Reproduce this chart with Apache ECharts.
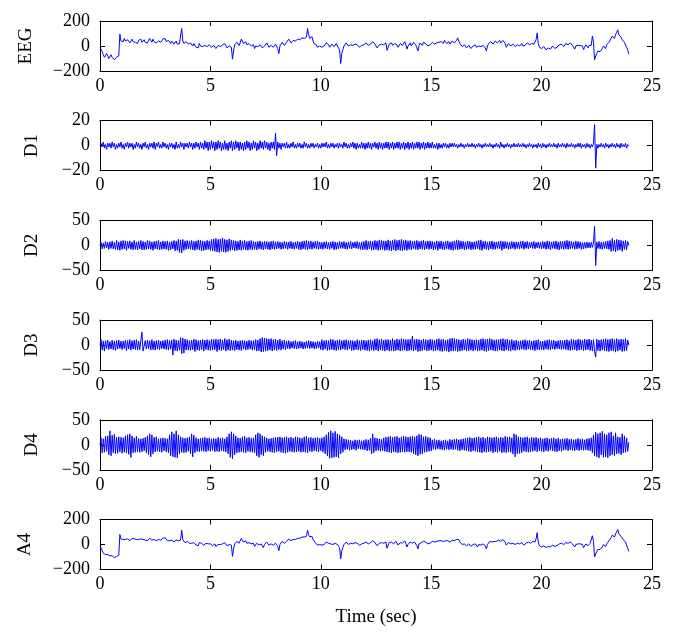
<!DOCTYPE html>
<html>
<head>
<meta charset="utf-8">
<script src="https://cdn.jsdelivr.net/npm/echarts@6/dist/echarts.min.js"></script>
<style>
  html, body { margin: 0; padding: 0; background: #fff; }
  #chart { width: 675px; height: 644px; }
</style>
</head>
<body>
<div id="chart"></div>
<script>
// samples every 0.05 s, one row per second
const sampleStep = 0.05;
const panelNames = ['EEG', 'D1', 'D2', 'D3', 'D4', 'A4'];
const yRanges = [200, 20, 50, 50, 50, 200];
const xTicks = [0, 5, 10, 15, 20, 25];

const eegValues = [
  -10, -25, -45, -70, -90, -75, -60, -80, -100, -85, -70, -90, -95, -110, -105, -90, -100, -80, 95, 40,
  55, 35, 60, 40, 30, 50, 45, 25, 40, 55, 35, 50, 30, 40, 20, 45, 35, 55, 30, 40,
  50, 30, 45, 25, 40, 60, 45, 30, 55, 35, 45, 25, 20, 40, 50, 30, 35, 55, 45, 60,
  35, 25, 45, 30, 20, 40, 35, 15, 25, 40, 15, 30, 20, 35, 140, 40, 20, 10, 35, 25,
  15, 5, 25, 10, 0, 20, 15, -10, 5, -15, 20, 0, 10, -5, -10, 5, 15, -5, 0, 10,
  10, -10, -15, 5, 10, -20, -25, 5, 15, -5, -10, 10, 0, 20, 25, -15, -25, 0, 5, -10,
  -105, -40, 10, 20, 30, 15, 5, 25, 55, 40, 20, 35, 35, 10, -5, 20, 25, 0, 0, 10,
  -20, 0, 15, -5, -10, 10, 5, -15, -30, 0, 10, 25, 20, -10, -15, 5, 0, -10, -5, 15,
  15, -20, -60, 0, 10, 30, 25, 5, 5, 30, 35, 55, 50, 25, 30, 45, 60, 40, 40, 55,
  70, 50, 45, 65, 80, 60, 55, 70, 140, 90, 60, 70, 75, 40, 20, 10, 10, -10, -15, 0,
  5, -10, -20, 0, 10, 25, 40, 10, -10, 5, 15, 0, -5, 10, 20, 0, -15, -30, -140, -60,
  -30, 0, 10, 25, 20, 0, -10, 10, 15, 5, 0, 15, 25, 10, 5, -10, -15, 5, 20, 10,
  10, 25, 30, 5, -5, 15, 20, 35, 35, 15, 10, -15, -20, 10, 25, 15, 5, 10, 15, 25,
  -35, -10, 15, 30, 25, 5, 0, 20, 30, 10, -10, 5, 20, 25, 5, 20, 35, 10, -25, 0,
  15, 25, 0, 10, 30, 20, 10, -15, -40, 5, 25, 15, 5, 30, 35, 20, 15, 0, -15, 10,
  20, 30, 35, 15, 10, 25, 40, 30, 15, 35, 30, 20, 45, 35, 20, 30, 35, 15, 25, 40,
  40, 25, 30, 45, 65, 40, 20, 5, -5, 5, 10, -5, -15, 0, 5, -10, -20, -5, 0, 10,
  10, -10, -25, 0, 5, -5, -10, 5, 15, -15, -40, 0, 20, 30, 35, 20, 15, 30, 40, 25,
  25, 40, 45, 25, 30, 45, 50, 20, -10, 5, 20, 10, 0, 10, 15, 0, -5, 5, 10, 0,
  0, 15, 20, 0, -10, 5, 15, 25, 25, 10, 5, 20, 30, 15, 20, 50, 105, 20, -10, -20,
  -20, -10, -5, -20, -30, -20, -15, -25, -25, -10, 0, -10, -20, -15, -10, 5, 10, 20, 15, 5,
  -5, 10, 20, 10, 10, 20, 25, 15, 5, -10, -25, 0, 15, 5, -10, 5, 20, 0, -30, -10,
  10, 0, -15, 5, 15, 5, 80, 30, -110, -80, -60, -40, -30, -45, -50, -20, 0, -10, -20, 10,
  20, 30, 40, 60, 80, 70, 60, 90, 110, 130, 90, 80, 70, 50, 40, 30, 20, -10, -30, -65
];

const d1Values = [
  0, 2, -1, 3, -2, 1, -3, 2, -1, 2, -2, 3, -1, 2, -3, 1, -2, 2, -1, 3,
  -2, 1, -3, 2, -1, 3, -2, 2, -1, 2, -3, 1, -2, 3, -1, 2, -2, 1, -3, 2,
  -1, 3, -2, 1, -3, 2, -1, 2, -2, 3, -3, 2, -1, 3, -2, 1, -2, 3, -1, 2,
  -2, 1, -3, 2, -1, 2, -2, 1, -3, 3, -2, 1, -2, 3, -1, 2, -3, 2, -1, 2,
  -2, 3, -1, 2, -3, 2, -2, 3, -1, 2, -3, 3, -2, 2, -3, 4, -2, 3, -4, 3,
  -3, 4, -2, 3, -4, 3, -3, 4, -2, 3, -4, 2, -3, 4, -3, 2, -4, 3, -2, 4,
  -4, 3, -3, 4, -2, 3, -4, 3, -3, 2, -4, 3, -3, 4, -2, 3, -4, 2, -3, 4,
  -2, 3, -4, 2, -3, 4, -2, 3, -3, 4, -2, 3, -3, 2, -4, 3, -2, 3, -3, 10,
  -8, 3, -2, 2, -3, 2, -1, 2, -2, 3, -2, 1, -2, 2, -1, 3, -2, 1, -2, 2,
  -1, 2, -2, 1, -2, 3, -1, 2, -2, 1, -2, 2, -1, 2, -2, 1, -1, 2, -2, 1,
  -2, 2, -1, 2, -1, 3, -2, 1, -2, 2, -1, 2, -2, 1, -1, 2, -2, 2, -1, 1,
  -2, 3, -1, 2, -2, 1, -2, 2, -1, 3, -2, 2, -3, 2, -2, 1, -2, 3, -2, 2,
  -3, 2, -2, 3, -2, 2, -3, 2, -1, 3, -2, 2, -3, 3, -2, 2, -3, 2, -2, 3,
  -2, 3, -3, 2, -2, 3, -3, 2, -2, 3, -2, 3, -3, 2, -2, 3, -3, 2, -2, 3,
  -3, 2, -2, 3, -3, 2, -2, 3, -2, 3, -3, 2, -2, 3, -3, 2, -2, 3, -2, 2,
  -2, 3, -2, 1, -2, 2, -3, 2, -2, 1, -2, 2, -1, 2, -2, 1, -2, 2, -1, 2,
  -1, 2, -1, 1, -2, 1, -1, 2, -1, 1, -2, 1, -1, 2, -1, 1, -1, 2, -1, 1,
  -2, 1, -1, 2, -1, 1, -2, 1, -1, 2, -1, 1, -1, 2, -1, 1, -2, 1, -1, 2,
  -1, 1, -2, 3, -1, 1, -2, 1, -1, 2, -1, 1, -2, 1, -1, 2, -1, 1, -1, 2,
  -1, 1, -1, 2, -1, 1, -2, 1, -1, 2, -1, 1, -2, 1, -1, 1, -2, 2, -1, 1,
  -2, 2, -1, 1, -2, 1, -1, 2, -1, 1, -1, 2, -1, 1, -2, 2, -1, 1, -1, 2,
  -1, 1, -2, 2, -1, 1, -1, 2, -1, 1, -2, 1, -1, 2, -1, 2, -2, 1, -1, 1,
  -2, 2, -1, 1, -2, 1, -1, 2, 17, -18, 1, -2, 1, -1, 2, -1, 1, -2, 2, -1,
  1, -2, 1, -1, 2, -1, 1, -2, 2, -1, 1, -2, 2, -1, 1, -1, 2, -2, 1, 0
];

const d2Values = [
  0, 6, -7, 5, -6, 8, -5, 6, -8, 7, -6, 9, -7, 6, -8, 10, -9, 7, -10, 9,
  -8, 10, -7, 9, -10, 8, -6, 9, -8, 7, -9, 10, -8, 7, -9, 8, -7, 10, -9, 8,
  -9, 7, -8, 10, -7, 9, -8, 7, -10, 8, -7, 9, -8, 10, -9, 7, -8, 9, -7, 8,
  -8, 9, -10, 7, -9, 8, -7, 10, -11, 9, -10, 12, -14, 11, -15, 12, -10, 9, -8, 10,
  -7, 9, -8, 10, -9, 8, -10, 9, -8, 11, -9, 10, -11, 9, -10, 8, -9, 10, -8, 9,
  -10, 12, -11, 13, -12, 14, -13, 12, -14, 13, -12, 15, -13, 12, -14, 11, -12, 13, -10, 11,
  -9, 10, -11, 9, -10, 8, -9, 11, -10, 9, -8, 10, -9, 8, -10, 9, -8, 10, -9, 8,
  -8, 7, -9, 8, -7, 9, -8, 7, -9, 8, -7, 8, -8, 7, -9, 8, -7, 9, -8, 7,
  -7, 8, -6, 7, -8, 6, -7, 8, -6, 7, -8, 7, -6, 8, -7, 6, -8, 7, -6, 8,
  -8, 7, -9, 8, -7, 9, -8, 10, -9, 8, -7, 9, -8, 7, -6, 8, -7, 9, -8, 7,
  -7, 6, -8, 7, -6, 8, -7, 6, -8, 7, -6, 8, -9, 7, -8, 6, -7, 8, -6, 7,
  -6, 8, -7, 6, -8, 7, -6, 8, -7, 6, -5, 7, -6, 8, -7, 6, -8, 7, -9, 8,
  -8, 10, -9, 8, -7, 9, -10, 8, -9, 10, -8, 9, -10, 11, -9, 10, -8, 9, -10, 9,
  -9, 11, -10, 9, -11, 10, -9, 12, -11, 10, -9, 11, -10, 12, -11, 10, -9, 11, -10, 9,
  -8, 10, -9, 8, -7, 9, -8, 10, -9, 8, -7, 9, -8, 10, -9, 8, -7, 9, -8, 9,
  -7, 8, -9, 7, -8, 9, -10, 8, -7, 9, -8, 7, -9, 8, -7, 9, -8, 7, -9, 8,
  -10, 9, -8, 11, -9, 10, -8, 9, -7, 8, -9, 7, -8, 9, -7, 8, -9, 7, -8, 7,
  -8, 9, -7, 10, -9, 11, -10, 8, -7, 9, -8, 7, -9, 8, -7, 9, -8, 7, -8, 7,
  -6, 8, -7, 9, -10, 8, -7, 8, -6, 7, -8, 6, -7, 8, -6, 7, -8, 7, -6, 7,
  -7, 8, -6, 9, -8, 7, -6, 8, -7, 6, -5, 7, -6, 8, -7, 6, -5, 7, -6, 6,
  -7, 8, -6, 7, -8, 9, -7, 8, -9, 7, -6, 8, -7, 9, -8, 7, -9, 8, -7, 8,
  -8, 9, -7, 10, -8, 9, -7, 8, -6, 7, -8, 9, -7, 8, -6, 7, -8, 6, -7, 6,
  -6, 7, -5, 6, -5, 6, -4, 5, 38, -40, 7, -6, 8, -7, 6, -8, 7, -6, 8, -7,
  9, -8, 10, -12, 14, -11, 10, -13, 12, -10, 11, -9, 10, -12, 9, -8, 10, -9, 8, 0
];

const d3Values = [
  0, 11, -10, 8, -12, 9, -7, 10, -9, 7, -8, 10, -9, 8, -11, 9, -8, 10, -7, 8,
  -9, 8, -7, 10, -11, 9, -8, 11, -10, 9, -8, 10, -9, 11, -10, 8, -9, 10, 26, -12,
  -11, 9, -8, 10, -7, 9, -10, 11, -9, 8, -10, 9, -8, 10, -9, 8, -7, 9, -8, 10,
  -9, 11, -10, 9, -8, 10, -20, 12, -11, 10, -12, 9, -10, 15, -17, 14, -16, 12, -10, 11,
  -10, 9, -11, 10, -9, 12, -13, 11, -10, 9, -11, 10, -9, 11, -12, 10, -9, 11, -10, 9,
  -11, 12, -10, 11, -9, 12, -13, 11, -10, 12, -11, 10, -9, 13, -12, 11, -10, 12, -11, 10,
  -10, 9, -11, 10, -9, 8, -10, 9, -11, 10, -8, 9, -10, 8, -9, 10, -8, 9, -10, 9,
  -9, 11, -12, 10, -11, 13, -14, 15, -13, 14, -12, 13, -11, 12, -10, 13, -12, 11, -10, 12,
  -11, 10, -9, 12, -10, 9, -8, 10, -9, 8, -7, 9, -8, 7, -6, 8, -7, 9, -8, 7,
  -7, 8, -6, 7, -8, 6, -7, 8, -6, 9, -7, 8, -6, 7, -8, 6, -7, 8, -6, 7,
  -9, 11, -10, 9, -8, 10, -11, 9, -10, 12, -9, 11, -10, 9, -11, 10, -9, 11, -10, 9,
  -8, 10, -9, 11, -10, 9, -8, 10, -11, 9, -10, 8, -9, 11, -10, 9, -11, 10, -9, 10,
  -10, 9, -11, 10, -12, 11, -10, 9, -11, 12, -10, 13, -12, 11, -10, 12, -11, 10, -12, 11,
  -10, 11, -12, 10, -11, 13, -12, 10, -11, 12, -10, 11, -12, 13, -11, 12, -10, 11, -12, 11,
  -11, 12, -10, 18, -12, 11, -10, 12, -13, 11, -12, 10, -11, 12, -10, 11, -12, 10, -11, 12,
  -10, 11, -12, 10, -11, 12, -10, 13, -12, 11, -13, 12, -11, 10, -12, 11, -14, 13, -12, 14,
  -12, 13, -11, 12, -13, 11, -12, 10, -11, 12, -10, 11, -12, 13, -11, 12, -10, 11, -12, 10,
  -10, 11, -12, 10, -11, 12, -10, 13, -12, 11, -13, 12, -11, 13, -10, 12, -11, 10, -12, 11,
  -12, 11, -10, 12, -11, 13, -12, 11, -10, 12, -11, 10, -12, 11, -10, 9, -11, 10, -9, 8,
  -10, 9, -8, 10, -9, 11, -10, 9, -8, 10, -9, 8, -10, 9, -11, 10, -9, 11, -10, 8,
  -9, 8, -10, 9, -8, 10, -9, 11, -10, 9, -8, 10, -9, 8, -7, 9, -8, 10, -9, 9,
  -8, 10, -9, 11, -10, 9, -11, 12, -10, 11, -9, 10, -11, 12, -10, 11, -9, 10, -11, 12,
  -10, 11, -9, 12, -11, 10, -12, 11, -13, -24, 12, -11, 10, -12, 11, -10, 12, -11, 13, -12,
  11, -13, 12, -11, 13, -12, 11, -14, 13, -12, 11, -10, 12, -13, 11, -12, 13, -11, 10, 0
];

const d4Values = [
  0, 14, -16, 12, -15, 17, -13, 18, -20, 28, -22, 19, -16, 21, -18, 15, -17, 16, -14, 15,
  -17, 14, -15, 18, -16, 20, -19, 22, -25, 18, -16, 14, -15, 17, -14, 13, -15, 12, -14, 13,
  -12, 15, -16, 18, -20, 22, -24, 20, -18, 15, -14, 16, -13, 12, -14, 13, -15, 14, -12, 13,
  -14, 12, -16, 20, -22, 26, -24, 22, -25, 28, -26, 20, -18, 16, -15, 14, -16, 13, -15, 14,
  -13, 16, -18, 22, -24, 19, -16, 14, -13, 12, -14, 13, -12, 14, -13, 15, -14, 13, -12, 14,
  -13, 12, -11, 13, -14, 12, -13, 15, -14, 13, -12, 14, -13, 12, -14, 16, -18, 22, -25, 26,
  -28, 22, -20, 18, -16, 14, -15, 13, -14, 16, -15, 17, -16, 14, -13, 15, -14, 13, -15, 14,
  -16, 20, -22, 24, -25, 22, -20, 18, -22, 16, -15, 14, -13, 12, -14, 13, -15, 14, -16, 15,
  -14, 15, -13, 16, -15, 14, -16, 15, -17, 16, -15, 14, -13, 15, -14, 13, -15, 16, -14, 15,
  -13, 14, -15, 13, -14, 16, -15, 17, -16, 14, -13, 15, -14, 13, -12, 14, -13, 15, -14, 13,
  -12, 14, -15, 16, -18, 20, -22, 25, -27, 28, -26, 24, -25, 27, -24, 22, -26, 20, -18, 16,
  -15, 12, -10, 11, -9, 10, -11, 9, -10, 8, -9, 10, -11, 9, -8, 10, -9, 8, -10, 9,
  -10, 11, -12, 10, -11, 13, -18, 22, -16, 14, -12, 13, -11, 12, -13, 11, -12, 14, -13, 15,
  -14, 16, -15, 17, -16, 15, -14, 16, -15, 17, -16, 14, -15, 16, -14, 17, -15, 16, -14, 15,
  -14, 16, -15, 17, -18, 16, -20, 18, -22, 21, -19, 20, -18, 16, -15, 17, -14, 15, -13, 14,
  -12, 10, -9, 11, -10, 9, -8, 10, -9, 8, -10, 9, -11, 10, -9, 8, -10, 11, -9, 10,
  -10, 11, -9, 12, -11, 10, -12, 11, -10, 12, -11, 13, -12, 14, -13, 15, -14, 13, -12, 14,
  -13, 15, -14, 16, -15, 14, -16, 15, -14, 13, -15, 16, -14, 15, -13, 14, -16, 15, -14, 16,
  -15, 14, -13, 15, -16, 14, -15, 17, -16, 15, -14, 16, -15, 14, -18, 22, -24, 20, -18, 16,
  -17, 15, -16, 14, -13, 15, -14, 16, -15, 13, -14, 15, -13, 14, -12, 15, -14, 13, -12, 14,
  -13, 12, -14, 13, -12, 14, -13, 12, -11, 13, -12, 14, -13, 12, -14, 13, -12, 11, -13, 12,
  -11, 12, -10, 13, -12, 11, -10, 12, -11, 10, -12, 11, -10, 13, -12, 11, -10, 12, -11, 10,
  -10, 12, -11, 13, -12, 14, -16, 20, -22, 25, -24, 22, -26, 24, -20, 27, -25, 22, -24, 20,
  -26, 24, -22, 26, -20, 18, -22, 24, -18, 16, -17, 15, -20, 22, -16, 18, -15, 14, -13, 5
];

const a4Values = [
  -10, -30, -50, -70, -85, -80, -70, -80, -95, -90, -80, -90, -95, -105, -100, -95, -95, -85, 80, 45,
  50, 40, 50, 40, 35, 45, 40, 30, 40, 50, 40, 45, 35, 40, 30, 40, 35, 45, 35, 40,
  45, 35, 40, 30, 40, 50, 45, 35, 50, 40, 40, 30, 30, 40, 45, 35, 40, 50, 45, 55,
  40, 30, 40, 30, 25, 35, 30, 20, 25, 35, 20, 30, 25, 35, 115, 40, 25, 15, 30, 25,
  15, 10, 20, 10, 5, 15, 10, -5, 5, -10, 15, 5, 10, 0, -5, 5, 10, 0, 5, 10,
  5, -5, -10, 5, 5, -15, -15, 0, 10, 0, -5, 5, 0, 15, 20, -10, -20, 0, 5, -5,
  -95, -35, 5, 15, 25, 15, 10, 25, 50, 35, 20, 30, 30, 10, 0, 15, 20, 5, 5, 10,
  -15, 0, 10, 0, -5, 5, 5, -10, -25, 0, 10, 20, 15, -5, -10, 5, 0, -5, 0, 10,
  10, -15, -50, 0, 10, 25, 20, 10, 10, 25, 30, 45, 45, 30, 30, 40, 50, 40, 40, 50,
  60, 50, 45, 60, 70, 60, 55, 65, 115, 80, 60, 65, 65, 40, 25, 15, 10, -5, -10, 0,
  0, -5, -15, 0, 10, 20, 35, 10, -5, 5, 10, 0, 0, 10, 15, 0, -10, -25, -115, -50,
  -25, 0, 10, 20, 15, 0, -5, 10, 10, 5, 5, 15, 20, 10, 5, -5, -10, 5, 15, 10,
  10, 20, 25, 5, 0, 15, 20, 30, 30, 15, 10, -10, -15, 10, 20, 15, 5, 10, 15, 20,
  -30, -5, 15, 25, 20, 5, 5, 15, 25, 10, -5, 5, 15, 20, 10, 20, 30, 10, -20, 0,
  10, 20, 5, 10, 25, 20, 10, -10, -35, 5, 20, 15, 10, 25, 30, 20, 15, 5, -10, 10,
  20, 25, 30, 20, 15, 25, 35, 30, 20, 30, 30, 25, 40, 30, 25, 30, 30, 20, 25, 35,
  35, 30, 30, 40, 55, 40, 20, 10, 0, 5, 5, -5, -10, 0, 5, -5, -15, -5, 0, 5,
  5, -5, -20, 0, 5, -5, -5, 5, 10, -10, -35, 0, 15, 25, 30, 20, 15, 25, 35, 25,
  25, 35, 40, 25, 30, 40, 45, 20, -5, 5, 15, 10, 5, 10, 10, 0, 0, 5, 10, 5,
  5, 10, 15, 0, -5, 5, 10, 20, 20, 10, 10, 20, 25, 15, 20, 45, 95, 20, -10, -15,
  -20, -10, -10, -20, -25, -20, -15, -20, -20, -10, -5, -10, -15, -15, -10, 0, 5, 15, 10, 5,
  0, 10, 15, 10, 10, 15, 20, 15, 5, -5, -20, 0, 10, 5, -5, 5, 15, 0, -25, -10,
  5, 0, -10, 5, 10, 5, 70, 25, -100, -75, -60, -40, -30, -40, -40, -20, 0, -10, -15, 5,
  15, 30, 40, 55, 75, 65, 60, 85, 100, 120, 85, 75, 65, 50, 40, 30, 20, -5, -30, -55
];

const panelValues = [eegValues, d1Values, d2Values, d3Values, d4Values, a4Values];
const nameGaps = [64, 58, 58, 58, 58, 65];

const chart = echarts.init(document.getElementById('chart'));
const font = 'Liberation Serif';

const grids = [], xAxes = [], yAxes = [], series = [];
panelNames.forEach(function (name, i) {
  grids.push({ left: 100, right: 23, top: 21 + 99.7 * i, height: 50 });
  const r = yRanges[i];
  // bottom axis with labels
  xAxes.push({
    type: 'value', gridIndex: i, min: 0, max: 25, interval: 5,
    axisLine: { onZero: false, lineStyle: { color: '#000', width: 1 } },
    axisTick: { inside: true, length: 5, lineStyle: { color: '#000' } },
    axisLabel: { color: '#000', fontFamily: font, fontSize: 18, margin: 6 },
    splitLine: { show: false },
    name: i === 5 ? 'Time (sec)' : '',
    nameLocation: 'middle', nameGap: 38,
    nameTextStyle: { color: '#000', fontFamily: font, fontSize: 19 }
  });
  // top mirror axis
  xAxes.push({
    type: 'value', gridIndex: i, position: 'top', min: 0, max: 25, interval: 5,
    axisLine: { onZero: false, lineStyle: { color: '#000', width: 1 } },
    axisTick: { inside: true, length: 5, lineStyle: { color: '#000' } },
    axisLabel: { show: false }, splitLine: { show: false }
  });
  yAxes.push({
    type: 'value', gridIndex: i, min: -r, max: r, interval: r,
    axisLine: { show: true, onZero: false, lineStyle: { color: '#000', width: 1 } },
    axisTick: { show: true, inside: true, length: 5, lineStyle: { color: '#000' } },
    axisLabel: {
      color: '#000', fontFamily: font, fontSize: 18, margin: 10,
      formatter: function (v) { return String(v).replace('-', '\u2212'); }
    },
    splitLine: { show: false },
    name: name, nameLocation: 'middle', nameGap: nameGaps[i],
    nameTextStyle: { color: '#000', fontFamily: font, fontSize: 19 }
  });
  yAxes.push({
    type: 'value', gridIndex: i, position: 'right', min: -r, max: r, interval: r,
    axisLine: { show: true, onZero: false, lineStyle: { color: '#000', width: 1 } },
    axisTick: { show: true, inside: true, length: 5, lineStyle: { color: '#000' } },
    axisLabel: { show: false }, splitLine: { show: false }
  });
  series.push({
    type: 'line', xAxisIndex: 2 * i, yAxisIndex: 2 * i,
    data: panelValues[i].map(function (v, k) { return [k * sampleStep, v]; }),
    showSymbol: false, symbol: 'none',
    lineStyle: { color: '#0000ff', width: 1 },
    animation: false
  });
});

chart.setOption({
  animation: false,
  grid: grids,
  xAxis: xAxes,
  yAxis: yAxes,
  series: series
});
</script>
</body>
</html>
